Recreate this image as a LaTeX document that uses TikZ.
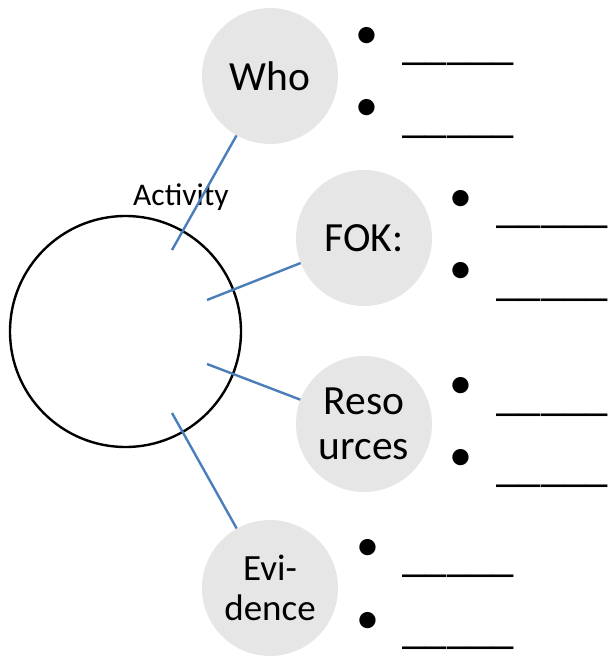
\documentclass[tikz,border=0pt]{standalone}
\usepackage{fontspec}
\setmainfont{Carlito}
\usetikzlibrary{positioning}

\definecolor{bubblegray}{HTML}{E6E6E6}
\definecolor{linkblue}{HTML}{4A7EBB}

\tikzset{
  topic/.style={circle,fill=bubblegray,minimum size=136pt,inner sep=0pt,align=center,
    font=\fontsize{41.5}{45}\selectfont},
  link/.style={draw=linkblue,line width=2.4pt},
  dot/.style={inner sep=0pt,font=\fontsize{46}{46}\selectfont},
  blank/.style={inner sep=0pt,anchor=base west,font=\fontsize{45}{45}\selectfont}
}

\begin{document}
\begin{tikzpicture}[x=1pt,y=-1pt]
  \useasboundingbox (0,0) rectangle (608,656);

  % Draw the activity circle
  \node[circle,draw,line width=2.4pt,minimum size=231pt,inner sep=0pt] (act) at (125.5,331.5) {};
  \node[anchor=base west,inner sep=0pt,font=\fontsize{31.5}{31.5}\selectfont] (actlabel) at (133,205) {Activity};

  % Draw the topic circles
  \node[topic] (who) at (270,76) {Who};
  \node[topic] (fok) at (364,238) {FOK:};
  \node[topic] (res) at (364,424) {Reso\\urces};
  \node[topic,font=\fontsize{37}{40}\selectfont] (evi) at (270,588) {Evi-\\dence};

  % Free ends of the links inside the activity circle
  \coordinate (whoEnd) at (172,250);
  \coordinate (fokEnd) at (207,300);
  \coordinate (resEnd) at (207,364);
  \coordinate (eviEnd) at (172,413);

  % Draw the links
  \draw[link] (who) -- (whoEnd);
  \draw[link] (fok) -- (fokEnd);
  \draw[link] (res) -- (resEnd);
  \draw[link] (evi) -- (eviEnd);

  % Bullets and blanks
  \node[dot] (who1) at (367,38) {•};
  \node[dot] (who2) at (367,110) {•};
  \node[blank] (whoB1) at (402,59) {\_\_\_\_\_};
  \node[blank] (whoB2) at (402,132) {\_\_\_\_\_};

  \node[dot] (fok1) at (461,201) {•};
  \node[dot] (fok2) at (461,273) {•};
  \node[blank] (fokB1) at (496,222) {\_\_\_\_\_};
  \node[blank] (fokB2) at (496,295) {\_\_\_\_\_};

  \node[dot] (res1) at (461,388) {•};
  \node[dot] (res2) at (461,460) {•};
  \node[blank] (resB1) at (496,410) {\_\_\_\_\_};
  \node[blank] (resB2) at (496,481) {\_\_\_\_\_};

  \node[dot] (evi1) at (368,550) {•};
  \node[dot] (evi2) at (368,623) {•};
  \node[blank] (eviB1) at (402,571) {\_\_\_\_\_};
  \node[blank] (eviB2) at (402,643) {\_\_\_\_\_};

\end{tikzpicture}
\end{document}
